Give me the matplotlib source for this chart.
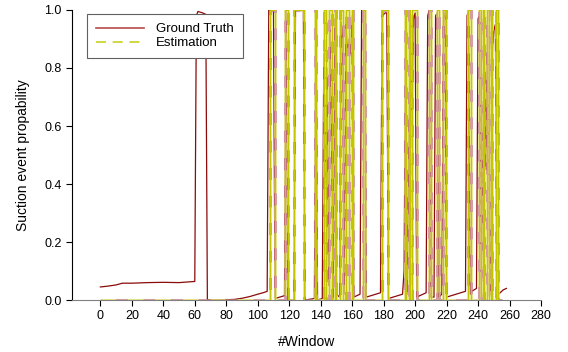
import matplotlib
matplotlib.use("Agg")
import matplotlib.pyplot as plt
import numpy as np

plt.rcParams['font.family'] = ['Liberation Sans', 'DejaVu Sans']

# Ground truth polyline (window, probability)
gt_x = [0, 5, 10, 14, 20, 30, 40, 50, 55, 60, 61, 62, 65, 67, 68, 69, 75, 85, 90, 95,
        100, 104, 106, 107, 110, 111, 117, 118, 119, 123, 124, 129, 130, 136, 137, 138,
        141, 142, 143, 144, 145, 146, 147, 148, 149, 150, 152, 153, 154, 155, 156, 157,
        158, 159, 160, 161, 165, 166, 168, 169, 178, 179, 181, 182, 183, 192, 193, 194,
        195, 196, 197, 198, 199, 200, 201, 207, 208, 209, 210, 212, 213, 214, 215, 217,
        218, 219, 220, 232, 233, 234, 235, 236, 239, 240, 241, 242, 243, 244, 245, 246,
        247, 248, 249, 250, 251, 252, 253, 255, 256, 258]
gt_y = [0.045, 0.048, 0.052, 0.058, 0.058, 0.060, 0.061, 0.060, 0.062, 0.064, 0.98, 0.995,
        0.99, 0.985, 0.0, 0.0, 0.0, 0.002, 0.006, 0.012, 0.02, 0.026, 0.03, 1.0, 1.0, 0.005,
        0.015, 1.0, 0.0, 0.0, 1.0, 1.0, 0.0, 0.005, 0.98, 0.0, 0.005, 0.85, 0.4, 0.8, 0.05,
        0.93, 0.5, 0.01, 0.97, 0.02, 0.01, 0.96, 0.9, 0.02, 0.95, 0.87, 0.9, 0.85, 0.98, 0.01,
        0.02, 1.0, 1.0, 0.01, 0.025, 0.98, 0.99, 0.99, 0.005, 0.02, 0.1, 0.95, 0.02, 0.5, 0.98,
        0.6, 0.97, 0.99, 0.01, 0.025, 0.98, 1.0, 0.01, 0.01, 0.98, 0.99, 0.01, 0.02, 1.0, 0.97,
        0.01, 0.03, 0.98, 1.0, 0.02, 0.03, 0.04, 0.97, 0.98, 0.02, 0.5, 0.85, 0.45, 0.98, 0.3,
        0.02, 0.85, 0.93, 0.95, 0.01, 0.02, 0.03, 0.035, 0.04]

# Estimation: binary, on between these windows
est_on = [107.5, 117.6, 123, 136.5, 141.8, 145.5, 149, 152, 156, 159.8, 166.7, 179,
          193.4, 196, 198, 208.6, 213.7, 217.5, 233.4, 240.4, 243, 245.5, 248.2, 251.4]
est_off = [110.8, 119, 129.7, 137.2, 143.2, 147.5, 149.6, 154, 158, 160.8, 168.4, 182.6,
           194.3, 197, 201, 210, 215, 219.7, 235.5, 242, 244, 246.7, 248.9, 252.5]
est_start, est_end = 0, 255

ex, ey = [est_start], [0]
for a, b in zip(est_on, est_off):
    ex += [a, a, b, b]
    ey += [0, 1, 1, 0]
ex.append(est_end)
ey.append(0)

fig = plt.figure(figsize=(5.68, 3.52), dpi=100)
ax = fig.add_axes([0.1268, 0.1477, 0.8257, 0.8239])

ax.plot(gt_x, gt_y, color='#8b0a0a', lw=0.9)
ax.plot(ex, ey, color='#e2e272', lw=2.2, ls=(0, (5, 4)), gapcolor='#c87a8c', alpha=0.75)
ax.plot(ex, ey, color='#c4c400', lw=0.8)

h_gt, = ax.plot([], [], color='#b84a4a', lw=1.2)
h_est, = ax.plot([], [], color='#c8d020', lw=1.2, ls=(0, (6, 4)))

ax.set_xlim(-18, 280)
ax.set_ylim(0, 1)
ax.set_xticks(np.arange(0, 281, 20))
ax.set_yticks(np.arange(0, 1.01, 0.2))
ax.set_yticklabels(['0.0', '0.2', '0.4', '0.6', '0.8', '1.0'])
ax.tick_params(labelsize=9, length=4, width=0.8, direction='out', colors='black')
ax.spines['top'].set_visible(False)
ax.spines['right'].set_visible(False)
ax.spines['bottom'].set_color('#808080')

ax.set_xlabel('#Window', fontsize=10, labelpad=9)
ax.set_ylabel('Suction event propability', fontsize=10, labelpad=10)

leg = ax.legend([h_gt, h_est], ['Ground Truth', 'Estimation'], loc='upper left',
                bbox_to_anchor=(0.032, 0.985), fontsize=9.5, frameon=True, fancybox=False,
                handlelength=3.7, borderpad=0.65, labelspacing=0.15, handletextpad=0.9,
                borderaxespad=0)
leg.get_frame().set_edgecolor('#606060')
leg.get_frame().set_linewidth(0.8)
leg.get_frame().set_alpha(1)

fig.savefig('out.png', dpi=100)
